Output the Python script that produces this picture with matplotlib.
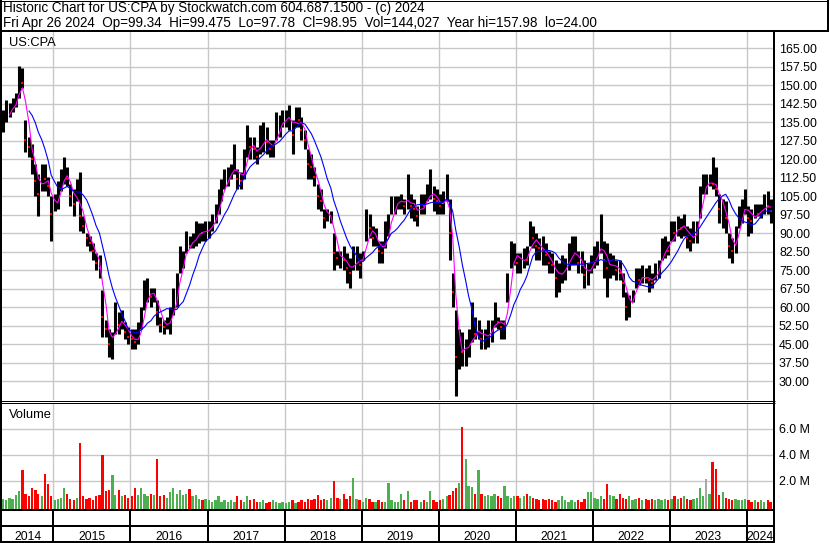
import numpy as np
import pandas as pd
import matplotlib
matplotlib.use('Agg')
import matplotlib.pyplot as plt
from datetime import datetime

# semi-monthly periods (1st / 15th), May 2014 .. Apr 2024
periods = pd.date_range('2014-05-01', periods=240, freq='SMS')

high = [140, 144, 143, 145, 147, 158, 157, 136, 129, 126,
        118, 114, 118, 118, 113, 105, 106, 111, 116, 121,
        117, 110, 108, 112, 115, 97, 90, 89, 86, 82,
        81, 67, 55, 51, 50, 62, 58, 59, 54, 52,
        51, 51, 54, 60, 71, 72, 68, 68, 63, 56,
        55, 56, 60, 68, 74, 85, 83, 91, 89, 90,
        95, 94, 94, 95, 95, 98, 102, 108, 112, 116,
        117, 118, 126, 116, 115, 124, 134, 129, 129, 125,
        134, 135, 133, 128, 128, 139, 138, 140, 140, 142,
        136, 141, 141, 137, 132, 124, 122, 117, 110, 108,
        100, 100, 99, 90, 83, 83, 85, 82, 80, 85,
        85, 82, 83, 100, 98, 93, 92, 87, 87, 95,
        98, 105, 105, 105, 106, 104, 114, 106, 104, 101,
        106, 106, 110, 116, 109, 108, 106, 107, 114, 104,
        74, 59, 51, 50, 47, 51, 62, 56, 55, 51,
        51, 55, 55, 62, 56, 55, 55, 74, 87, 86,
        82, 82, 84, 85, 95, 93, 90, 88, 89, 86,
        83, 82, 79, 78, 81, 80, 86, 89, 89, 83,
        83, 79, 78, 81, 85, 87, 98, 87, 86, 82,
        81, 79, 79, 74, 66, 65, 67, 76, 76, 77,
        76, 77, 74, 78, 79, 88, 89, 87, 95, 95,
        97, 96, 98, 93, 92, 95, 95, 109, 114, 114,
        114, 121, 117, 106, 104, 103, 90, 88, 93, 101,
        104, 108, 101, 100, 102, 102, 102, 106, 107, 104]

low = [131, 135, 137, 139, 141, 145, 149, 123, 121, 114,
       105, 97, 107, 107, 105, 87, 99, 100, 107, 110,
       109, 101, 97, 103, 91, 90, 85, 83, 79, 75,
       72, 48, 48, 40, 39, 49, 49, 51, 47, 45,
       43, 43, 45, 51, 59, 62, 60, 62, 53, 50,
       49, 51, 49, 57, 60, 74, 76, 82, 84, 84,
       85, 86, 87, 87, 88, 91, 94, 98, 103, 108,
       109, 112, 114, 108, 108, 112, 121, 120, 120, 118,
       122, 123, 122, 121, 121, 128, 129, 133, 133, 132,
       122, 133, 133, 128, 124, 112, 112, 109, 100, 99,
       92, 95, 94, 75, 77, 76, 75, 70, 68, 75,
       75, 72, 79, 87, 88, 85, 85, 78, 78, 84,
       89, 98, 98, 100, 100, 98, 100, 96, 95, 93,
       98, 98, 103, 104, 99, 98, 98, 98, 103, 79,
       60, 24, 35, 36, 36, 40, 46, 47, 47, 43,
       43, 44, 46, 52, 51, 47, 47, 62, 76, 77,
       74, 74, 76, 77, 85, 84, 79, 79, 77, 77,
       74, 74, 64, 66, 70, 71, 75, 77, 77, 74,
       74, 68, 69, 74, 76, 77, 82, 72, 64, 72,
       73, 71, 71, 64, 55, 56, 62, 68, 69, 70,
       70, 66, 68, 71, 72, 79, 80, 81, 87, 87,
       89, 88, 89, 84, 83, 86, 86, 96, 106, 106,
       109, 108, 105, 94, 92, 90, 80, 78, 82, 92,
       94, 98, 89, 90, 96, 97, 96, 98, 98, 94]

close = [135, 139, 140, 142, 144, 152, 151, 128, 125, 120,
         111, 106, 113, 112, 109, 98, 103, 106, 112, 116,
         112, 105, 102, 107, 97, 93, 88, 86, 83, 78,
         76, 56, 51, 45, 47, 55, 53, 55, 50, 48,
         47, 46, 48, 56, 65, 67, 64, 66, 58, 53,
         52, 54, 55, 62, 68, 79, 80, 86, 85, 87,
         90, 91, 90, 91, 92, 94, 98, 103, 107, 112,
         113, 115, 119, 112, 111, 118, 128, 125, 124, 121,
         128, 129, 127, 124, 125, 133, 134, 136, 137, 138,
         130, 137, 136, 132, 128, 118, 117, 113, 105, 103,
         96, 97, 98, 82, 80, 81, 79, 76, 74, 79,
         80, 77, 81, 93, 92, 88, 89, 83, 82, 89,
         93, 101, 102, 103, 104, 101, 105, 101, 100, 97,
         102, 101, 106, 108, 104, 103, 101, 102, 108, 90,
         66, 40, 44, 42, 44, 45, 50, 49, 52, 47,
         48, 50, 51, 56, 54, 52, 53, 68, 82, 83,
         78, 79, 80, 79, 89, 88, 85, 84, 83, 81,
         78, 77, 72, 73, 75, 76, 81, 82, 83, 78,
         77, 73, 75, 77, 81, 82, 88, 79, 76, 77,
         78, 75, 74, 70, 60, 61, 64, 72, 71, 73,
         72, 71, 70, 75, 76, 84, 85, 83, 91, 90,
         93, 92, 94, 88, 87, 90, 91, 106, 110, 110,
         111, 110, 108, 100, 101, 96, 85, 83, 87, 97,
         99, 103, 96, 95, 99, 98, 99, 102, 101, 99]

# volume in millions of shares
volume = [0.6, 0.5, 0.7, 0.6, 0.9, 1.2, 2.8, 1.0, 0.8, 1.4,
          1.3, 1.0, 0.8, 2.55, 1.77, 0.8, 0.5, 0.6, 0.7, 1.45,
          1.0, 0.6, 0.5, 0.7, 4.9, 0.8, 0.6, 0.7, 0.5, 0.8,
          0.9, 3.95, 1.2, 1.3, 2.4, 0.9, 1.3, 0.8, 0.9, 0.7,
          0.8, 1.45, 0.9, 1.45, 1.0, 0.8, 1.0, 0.9, 3.7, 0.8,
          0.9, 0.7, 1.1, 1.45, 1.0, 1.3, 0.9, 1.0, 1.35, 0.8,
          0.9, 0.6, 0.5, 0.6, 0.5, 0.4, 0.5, 0.85, 0.4, 0.5,
          0.4, 0.5, 0.4, 0.85, 0.5, 0.4, 0.85, 0.5, 0.6, 0.4,
          0.4, 0.5, 0.3, 0.4, 0.5, 0.4, 0.3, 0.4, 0.3, 0.4,
          0.5, 0.3, 0.4, 0.5, 0.4, 0.6, 0.5, 0.6, 0.9, 0.5,
          0.6, 0.5, 0.7, 2.0, 0.7, 0.6, 1.0, 0.6, 0.8, 2.2,
          0.6, 0.5, 0.4, 0.7, 0.6, 0.4, 0.4, 0.5, 0.4, 0.4,
          1.85, 0.5, 0.4, 0.4, 1.0, 0.5, 1.2, 0.4, 0.5, 0.5,
          0.4, 0.5, 0.4, 1.2, 0.5, 0.4, 0.5, 0.6, 0.8, 0.9,
          1.2, 1.4, 1.8, 6.1, 3.7, 1.6, 1.5, 1.0, 2.85, 1.0,
          0.8, 0.9, 0.8, 1.0, 0.8, 0.7, 1.6, 0.8, 0.7, 0.8,
          0.8, 0.7, 0.8, 1.0, 0.8, 0.7, 0.6, 0.5, 0.6, 0.5,
          0.6, 0.5, 0.4, 0.5, 0.85, 0.5, 0.4, 0.5, 0.4, 0.5,
          0.4, 0.6, 1.15, 1.1, 0.7, 0.6, 0.85, 0.6, 1.75, 0.9,
          0.8, 0.6, 1.0, 0.7, 0.6, 0.8, 0.5, 0.6, 0.7, 0.5,
          0.6, 0.5, 0.6, 0.5, 0.6, 0.5, 0.6, 0.5, 0.6, 0.85,
          0.6, 0.7, 0.8, 0.6, 0.5, 0.6, 0.7, 1.4, 0.8, 2.1,
          1.0, 3.4, 2.9, 0.9, 1.15, 0.7, 0.6, 0.5, 0.6, 0.5,
          0.5, 0.6, 0.5, 0.4, 0.5, 0.4, 0.5, 0.4, 0.5, 0.4]

price_ticks = [30.0, 37.5, 45.0, 52.5, 60.0, 67.5, 75.0, 82.5, 90.0, 97.5,
               105.0, 112.5, 120.0, 127.5, 135.0, 142.5, 150.0, 157.5, 165.0]
vol_ticks = [2.0, 4.0, 6.0]
years = list(range(2014, 2025))

title1 = "Historic Chart for US:CPA by Stockwatch.com 604.687.1500 - (c) 2024"
title2 = ("Fri Apr 26 2024  Op=99.34  Hi=99.475  Lo=97.78  Cl=98.95  "
          "Vol=144,027  Year hi=157.98  lo=24.00")

#-------------------------------------------------------------------------------
df = pd.DataFrame({'high': high, 'low': low, 'close': close, 'vol': volume},
                  index=periods + pd.Timedelta(days=7))
df['ma_fast'] = df['close'].rolling(3).mean()
df['ma_slow'] = df['close'].rolling(9).mean()
chg = df['close'].diff().fillna(1)
GREEN, RED, GRAY = '#4caf50', '#ff0000', '#a8a8a8'
vcol = np.where(chg > 0, GREEN, np.where(chg < 0, RED, GRAY))

plt.rcParams['font.family'] = ['Liberation Sans', 'DejaVu Sans']
FS_HEAD = 9.75
FS_LBL = 9.3
FS_TICK = 8.9
FS_YEAR = 8.7
PX = 0.72  # points per pixel at 100 dpi
GRID = '#c8c8c8'

W, H = 830, 543
fig = plt.figure(figsize=(W / 100, H / 100), dpi=100)


def rect(x0, y0, x1, y1):
    return [x0 / W, 1 - y1 / H, (x1 - x0) / W, (y1 - y0) / H]


ax = fig.add_axes(rect(2, 31, 774, 400))
axv = fig.add_axes(rect(2, 403, 774, 510), sharex=ax)
axd = fig.add_axes(rect(2, 510, 774, 542), sharex=ax)

x0, x1 = datetime(2014, 5, 3), datetime(2024, 5, 8)
bounds = [datetime(y, 1, 1) for y in years[1:]]

# price panel
ax.vlines(df.index, df['low'], df['high'], color='black', lw=2.2, zorder=3)
down = chg < 0
ax.plot(df.index[down], df['close'][down], 's', color=RED, ms=1.6, mew=0, zorder=4)
ax.plot(df.index, df['ma_fast'], color='#ff00ff', lw=0.8, zorder=5)
ax.plot(df.index, df['ma_slow'], color='#0000ff', lw=0.8, zorder=5)
ax.set_ylim(22.4, 172.0)
ax.set_yticks(price_ticks)
ax.set_yticklabels(['%.2f' % v for v in price_ticks])

# volume panel
axv.bar(df.index, df['vol'] + 0.25, bottom=-0.25, width=11, color=vcol, zorder=3)
axv.set_ylim(-0.25, 7.96)
axv.set_yticks(vol_ticks)
axv.set_yticklabels(['%.1f M' % v for v in vol_ticks])

for a in (ax, axv):
    a.set_xticks(bounds)
    a.grid(True, color=GRID, lw=1.0)
    a.set_axisbelow(True)
    a.yaxis.tick_right()
    a.tick_params(axis='y', length=0, pad=3.6, labelsize=FS_TICK)
    a.tick_params(axis='x', length=0, labelbottom=False)
    for s in a.spines.values():
        s.set_visible(False)

# date strip
axd.set_ylim(2, 0)
axd.axhline(1, color='black', lw=2 * PX)
axd.vlines(bounds, 0, 2, color='black', lw=2 * PX)
for y in years:
    a0 = max(datetime(y, 1, 1), x0)
    a1 = min(datetime(y + 1, 1, 1), x1)
    axd.text(a0 + (a1 - a0) / 2, 1.85, str(y), ha='center', va='baseline', fontsize=FS_YEAR)
axd.set_axis_off()
ax.set_xlim(x0, x1)

# frame and header
ov = fig.add_axes([0, 0, 1, 1])
ov.set_xlim(0, W)
ov.set_ylim(H, 0)
ov.set_axis_off()
k = dict(color='black', solid_capstyle='butt')
ov.plot([1, 1], [0, H], lw=2 * PX, **k)
ov.plot([0, 828], [0.5, 0.5], lw=1 * PX, **k)
ov.plot([828, 828], [0, 31], lw=2 * PX, **k)
ov.plot([0, 829], [30.5, 30.5], lw=2 * PX, **k)
ov.plot([774, 774], [30, H], lw=2 * PX, **k)
ov.plot([0, 775], [400.5, 400.5], lw=1 * PX, **k)
ov.plot([0, 775], [402.5, 402.5], lw=1 * PX, **k)
ov.plot([0, 775], [510, 510], lw=2 * PX, **k)
ov.plot([0, 775], [541.5, 541.5], lw=2 * PX, **k)

ov.text(3, 12, title1, fontsize=FS_HEAD, va='baseline')
ov.text(3, 26.5, title2, fontsize=FS_HEAD, va='baseline')
ov.text(9, 46, 'US:CPA', fontsize=FS_LBL, va='baseline')
ov.text(9, 417.5, 'Volume', fontsize=FS_LBL, va='baseline')

fig.savefig('out.png', dpi=100)
